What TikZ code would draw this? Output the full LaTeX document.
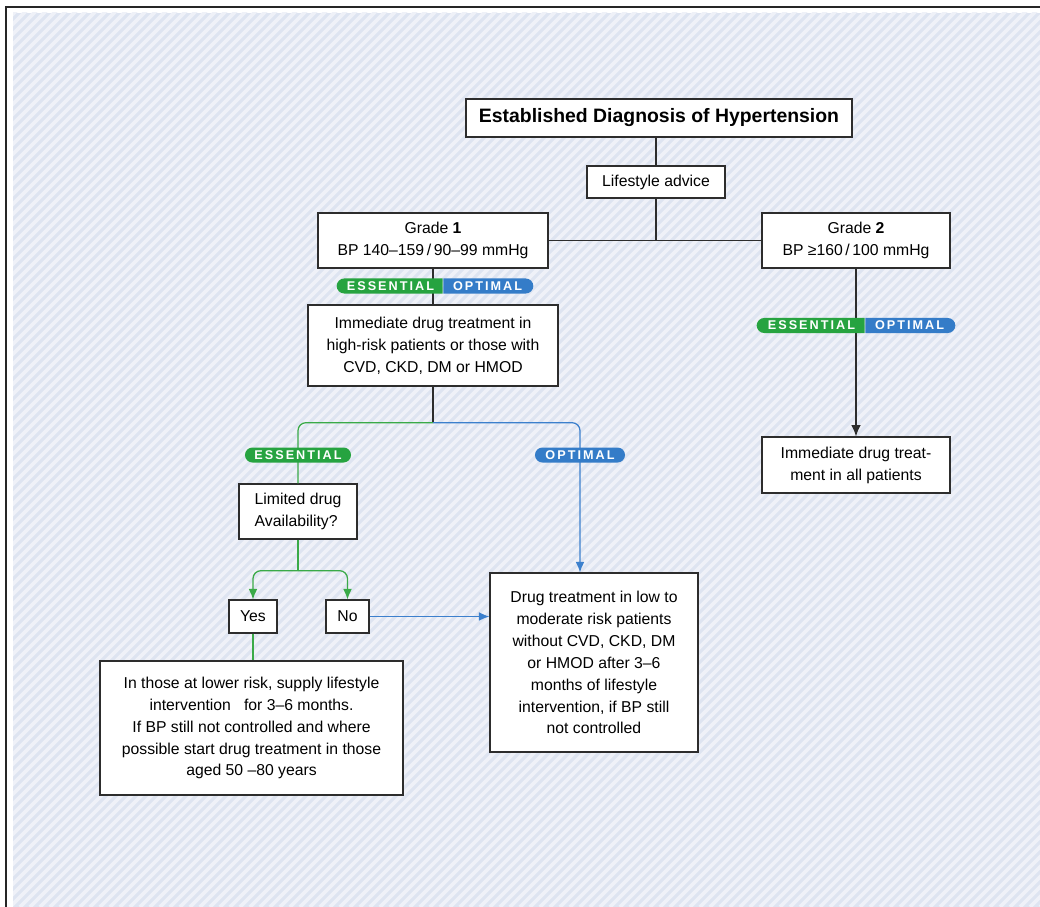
\documentclass[tikz,border=0pt]{standalone}
\usepackage{fontspec}
\setmainfont{Liberation Sans}
\usetikzlibrary{arrows.meta,positioning,shapes.misc}
\definecolor{bgblue}{RGB}{222,228,241}
\definecolor{stripecol}{RGB}{239,241,248}
\definecolor{boxline}{RGB}{45,45,45}
\definecolor{essgreen}{RGB}{38,163,64}
\definecolor{optblue}{RGB}{52,124,200}
\definecolor{grnline}{RGB}{58,170,72}
\definecolor{bluline}{RGB}{60,128,205}

\begin{document}
\begin{tikzpicture}[
  x=0.025cm, y=-0.025cm,
  box/.style={draw=boxline, fill=white, line width=0.9pt, align=center, inner sep=0pt,
    font=\fontsize{11.2}{15.6}\selectfont},
  titlebox/.style={box, font=\fontsize{13.8}{16}\selectfont\bfseries},
  badgetext/.style={inner sep=0pt, minimum height=3.75mm, text=white,
    font=\fontsize{9}{9}\selectfont\bfseries\addfontfeature{LetterSpace=16}},
  essbadge/.style={badgetext, rounded rectangle, fill=essgreen, minimum width=26.5mm},
  optbadge/.style={badgetext, rounded rectangle, fill=optblue, minimum width=22.5mm},
  essleft/.style={essbadge, rounded rectangle right arc=none},
  optright/.style={optbadge, rounded rectangle left arc=none},
  link/.style={draw=boxline, line width=0.9pt},
  flow/.style={link, -{Latex[length=2.8mm,width=2.4mm]}},
  grnlink/.style={draw=grnline, line width=0.9pt, rounded corners=2mm},
  grnflow/.style={grnlink, -{Latex[length=2.6mm,width=2.2mm]}},
  bluflow/.style={draw=bluline, line width=0.9pt, rounded corners=2mm, -{Latex[length=2.6mm,width=2.2mm]}}
]
\useasboundingbox (0,0) rectangle (1040,907);

% striped background and frame
\fill[white] (0,0) rectangle (1040,907);
\fill[bgblue] (13,13) rectangle (1040,907);
\begin{scope}
  \clip (13,13) rectangle (1040,907);
  \foreach \a in {-900,-890,...,1040}
    \draw[stripecol, line width=2.6pt] (\a,907) -- (\a+907,0);
\end{scope}
\draw[black!85, line width=1.4pt] (6,907) -- (6,7) -- (1040,7);

% boxes
\node[titlebox, minimum width=9.65cm, minimum height=9.5mm] (title) at (659,118) {Established Diagnosis of Hypertension};
\node[box, minimum width=3.45cm, minimum height=8mm] (life) at (656,182) {Lifestyle advice};
\node[box, minimum width=5.75cm, minimum height=13.75mm] (grade1) at (433,240.5) {Grade \textbf{1}\\BP 140–159\,/\,90–99 mmHg};
\node[box, minimum width=4.7cm, minimum height=13.75mm] (grade2) at (856,240.5) {Grade \textbf{2}\\BP ≥160\,/\,100 mmHg};
\node[box, minimum width=6.25cm, minimum height=20.25mm] (imm1) at (433,345.5) {Immediate drug treatment in\\high-risk patients or those with\\CVD, CKD, DM or HMOD};
\node[box, minimum width=4.7cm, minimum height=14mm] (imm2) at (856,465) {Immediate drug treat-\\ment in all patients};
\node[box, align=left, minimum width=2.95cm, minimum height=13.75mm] (limited) at (298,511.5) {Limited drug\\Availability?};
\node[box, minimum width=1.2cm, minimum height=8.25mm] (yes) at (253,616.5) {Yes};
\node[box, minimum width=1.075cm, minimum height=8.25mm] (no) at (347.5,616.5) {No};
\node[box, minimum width=7.575cm, minimum height=33.5mm] (lower) at (251.5,728) {In those at lower risk, supply lifestyle\\intervention \ \ for 3–6 months.\\If BP still not controlled and where\\possible start drug treatment in those\\aged 50 –80 years};
\node[box, minimum width=5.2cm, minimum height=44.75mm] (drug) at (594,662.5) {Drug treatment in low to\\moderate risk patients\\without CVD, CKD, DM\\or HMOD after 3–6\\months of lifestyle\\intervention, if BP still\\not controlled};
\coordinate (optx) at (580,455);

% connectors
\draw[link] (life.north |- title.south) -- (life);
\coordinate (join) at (life |- grade1);
\draw[link] (life) -- (join);
\draw[link] (grade1) -- (grade2);
\draw[link] (grade1) -- (imm1);
\draw[flow] (grade2) -- (imm2);
\coordinate[below=9mm of imm1] (split1);
\draw[link] (imm1) -- (split1);
\draw[grnlink] (split1) -| (limited);
\draw[bluflow] (split1) -| (optx) -- (optx |- drug.north);
\coordinate[below=7.75mm of limited] (split2);
\draw[grnlink] (limited) -- (split2);
\draw[grnflow] (split2) -| (yes);
\draw[grnflow] (split2) -| (no);
\draw[bluflow] (no) -- (no -| drug.west);
\draw[grnlink] (yes) -- (yes |- lower.north);

% badges
\node[essleft, anchor=east] (b1e) at (443,286) {ESSENTIAL};
\node[optright, right=0pt of b1e] (b1o) {OPTIMAL};
\node[essleft, anchor=east, minimum width=27mm] (b2e) at (865,325.5) {ESSENTIAL};
\node[optright, right=0pt of b2e] (b2o) {OPTIMAL};
\node[essbadge] (e3) at (limited |- optx) {ESSENTIAL};
\node[optbadge] (o3) at (optx) {OPTIMAL};

\end{tikzpicture}
\end{document}
